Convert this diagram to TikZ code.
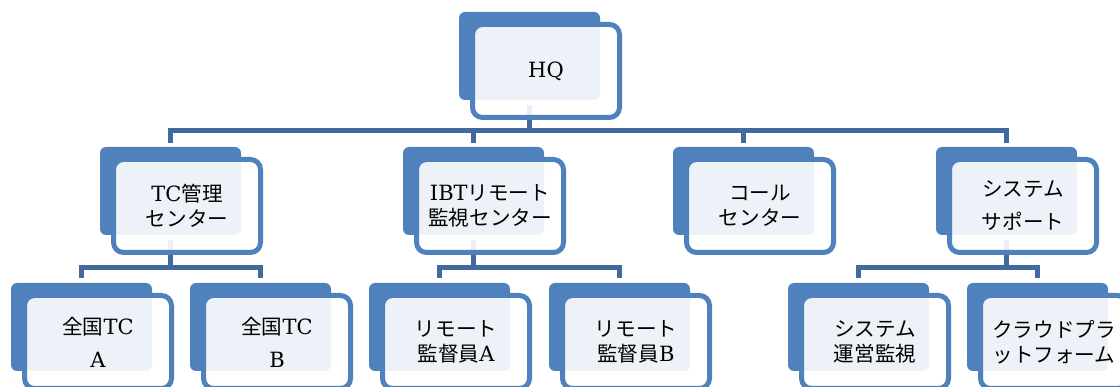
\documentclass[tikz,border=0pt]{standalone}
\usepackage{fontspec}
\setmainfont{DejaVu Serif}
\newfontfamily\jp[Scale=0.98]{Noto Sans CJK JP}
\usetikzlibrary{backgrounds}
\definecolor{boxblue}{RGB}{79,129,189}
\definecolor{linkblue}{RGB}{66,106,158}
\tikzset{
  darkbox/.style={fill=boxblue, draw=none, rounded corners=6pt,
    minimum width=141pt, minimum height=88pt, inner sep=0pt, outer sep=0pt},
  framebox/.style={draw=boxblue, line width=5pt, fill=white, fill opacity=0.9,
    text opacity=1, rounded corners=10pt, minimum width=147pt, minimum height=93pt,
    inner sep=0pt, align=center, text=black,
    font=\fontsize{21}{25}\selectfont},
  conn/.style={draw=linkblue, line width=5pt}
}
\newcommand\orgbox[4]{%
  \node[darkbox] (#1) at (#2+70.5,#3+44) {};
  \node[framebox] (#1f) at (#2+87,#3+59) {#4};
}
\begin{document}
\begin{tikzpicture}[x=1pt,y=-1pt]
\useasboundingbox (0,0) rectangle (1120,387);
\clip (0,0) rectangle (1120,387);
% level 0
\orgbox{hq}{459}{12}{HQ}
% level 1
\orgbox{tc}{100}{147}{TC{\jp 管理}\\{\jp センター}}
\orgbox{ibt}{403}{147}{IBT{\jp リモート}\\{\jp 監視センター}}
\orgbox{call}{673}{147}{{\jp コール}\\{\jp センター}}
\orgbox{sys}{936}{147}{{\jp システム}\\[8pt]{\jp サポート}}
% level 2
\orgbox{tca}{11}{283}{{\jp 全国}TC\\[8pt]A}
\orgbox{tcb}{190}{283}{{\jp 全国}TC\\[8pt]B}
\orgbox{ra}{369}{283}{{\jp リモート}\\{\jp 監督員}A}
\orgbox{rb}{549}{283}{{\jp リモート}\\{\jp 監督員}B}
\orgbox{sm}{788}{283}{{\jp システム}\\{\jp 運営監視}}
\orgbox{cl}{967}{283}{{\jp クラウドプラ}\\{\jp ットフォーム}}
% connectors
\begin{scope}[on background layer]
  \coordinate (bar0) at ([yshift=-31pt]hq.south);
  \draw[conn] ([yshift=-5pt]hq.south) -- (bar0);
  \foreach \c in {tc,ibt,call,sys}
    \draw[conn] ([yshift=4pt]\c.north) |- (bar0);
  \foreach \p/\a/\b in {tc/tca/tcb, ibt/ra/rb, sys/sm/cl}{
    \coordinate (bar\p) at ([yshift=-33pt]\p.south);
    \draw[conn] ([yshift=-5pt]\p.south) -- (bar\p);
    \draw[conn] ([yshift=5pt]\a.north) |- (bar\p);
    \draw[conn] ([yshift=5pt]\b.north) |- (bar\p);
  }
\end{scope}
\end{tikzpicture}
\end{document}
